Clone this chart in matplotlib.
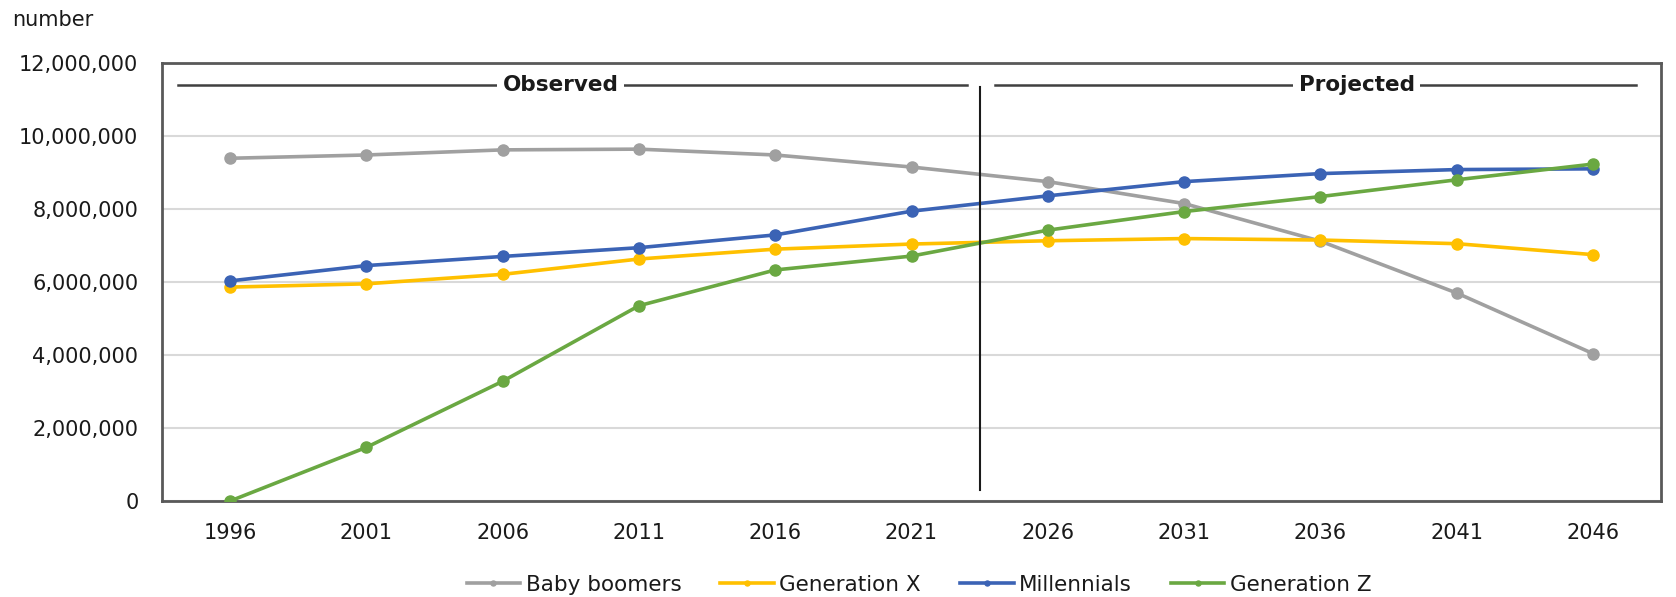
import matplotlib
matplotlib.use("Agg")
import matplotlib.pyplot as plt
from matplotlib.ticker import FuncFormatter, MultipleLocator

years = ["1996", "2001", "2006", "2011", "2016", "2021", "2026", "2031", "2036", "2041", "2046"]
baby_boomers = [9390000, 9480000, 9620000, 9640000, 9480000, 9150000, 8750000, 8150000, 7120000, 5700000, 4040000]
generation_x = [5860000, 5950000, 6210000, 6630000, 6900000, 7040000, 7130000, 7190000, 7150000, 7050000, 6750000]
millennials = [6030000, 6450000, 6700000, 6940000, 7290000, 7940000, 8360000, 8750000, 8970000, 9080000, 9100000]
generation_z = [0, 1470000, 3280000, 5350000, 6330000, 6710000, 7420000, 7930000, 8340000, 8800000, 9230000]

series_names = ["Baby boomers", "Generation X", "Millennials", "Generation Z"]
series_values = [baby_boomers, generation_x, millennials, generation_z]
colors = ["#a0a0a0", "#ffc000", "#3b63b5", "#6aa842"]

plt.rcParams['font.family'] = ['DejaVu Sans']

fig = plt.figure(figsize=(16.76, 5.97), dpi=100)
ax = fig.add_axes([162/1676, 1-501/597, 1499/1676, 438/597])

x = list(range(len(years)))
for name, vals, c in zip(series_names, series_values, colors):
    ax.plot(x, vals, color=c, lw=2.6, marker='o', markersize=8,
            markerfacecolor=c, markeredgecolor=c, label=name, zorder=3)

ax.set_xlim(-0.5, len(years) - 0.5)
ax.set_ylim(0, 12000000)
ax.yaxis.set_major_locator(MultipleLocator(2000000))
ax.yaxis.set_major_formatter(FuncFormatter(lambda v, p: f"{int(v):,}"))
ax.set_xticks(x)
ax.set_xticklabels(years)
ax.tick_params(axis='both', length=0, labelsize=15, colors='#1a1a1a')
ax.tick_params(axis='y', pad=17)
ax.tick_params(axis='x', pad=16)
ax.grid(axis='y', color='#d9d9d9', lw=1.5, zorder=0)
ax.set_axisbelow(True)
for s in ax.spines.values():
    s.set_color('#595959')
    s.set_linewidth(2)

# divider between observed and projected
ax.plot([5.5, 5.5], [0.025, 0.945], color='#1a1a1a', lw=1.5,
        transform=ax.get_xaxis_transform(), zorder=4)

# header lines
hy = 0.949
ax.plot([0.0107, 0.537], [hy, hy], color='#404040', lw=1.8, transform=ax.transAxes, zorder=4)
ax.plot([0.556, 0.983], [hy, hy], color='#404040', lw=1.8, transform=ax.transAxes, zorder=4)
ax.text(0.266, hy, "Observed", transform=ax.transAxes, ha='center', va='center',
        fontsize=15.5, fontweight='bold', color='#1a1a1a', zorder=5,
        bbox=dict(facecolor='white', edgecolor='none', pad=4))
ax.text(0.797, hy, "Projected", transform=ax.transAxes, ha='center', va='center',
        fontsize=15.5, fontweight='bold', color='#1a1a1a', zorder=5,
        bbox=dict(facecolor='white', edgecolor='none', pad=4))

fig.text(12/1676, 1-20/597, "number", ha='left', va='center', fontsize=15, color='#1a1a1a')

handles, labels = ax.get_legend_handles_labels()
fig.legend(handles, labels, loc='center', bbox_to_anchor=(919/1676, 1-585/597), ncol=4,
           frameon=False, fontsize=15.5, handlelength=2.5, handletextpad=0.25,
           columnspacing=1.8, markerscale=0.45, labelcolor='#1a1a1a')

fig.savefig("out.png", dpi=100)
